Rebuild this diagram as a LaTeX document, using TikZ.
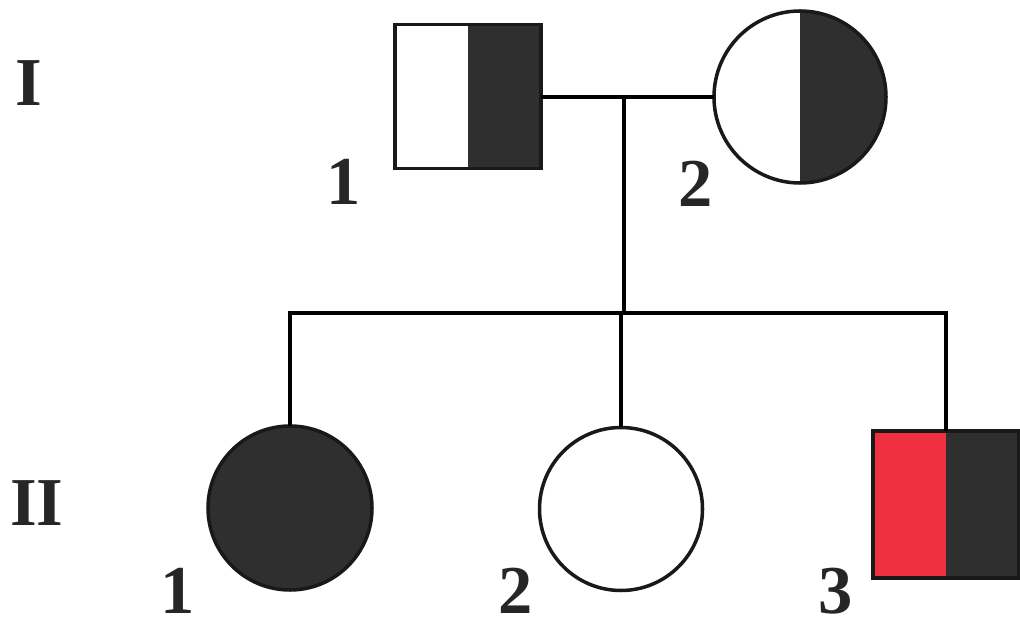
\documentclass[tikz,border=0pt]{standalone}
\usepackage{fontspec}
\setmainfont{Liberation Serif}
\usepackage{tikz}
\usepackage{xcolor}
\definecolor{affect}{HTML}{2F2F2F}
\definecolor{carrier}{HTML}{F0303F}

\tikzset{
  male/.style={draw=black!90,line width=2pt,rectangle,minimum width=2.92cm,minimum height=2.88cm,inner sep=0pt},
  female/.style={draw=black!90,line width=2pt,circle,inner sep=0pt},
  halves/.style 2 args={path picture={
    \fill[#1] (path picture bounding box.north west) rectangle (path picture bounding box.south);
    \fill[#2] (path picture bounding box.north) rectangle (path picture bounding box.south east);}},
  gen/.style={font=\fontsize{39}{42}\selectfont\bfseries,inner sep=0pt,text=black!85}
}

\begin{document}
\begin{tikzpicture}[line width=2pt,line cap=rect]
\useasboundingbox (0,0) rectangle (20.4,12.58);
% generation I
\node[male,halves={white}{affect}] (m1) at (9.36,10.65) {};
\node[female,halves={white}{affect},minimum size=3.44cm] (f1) at (16.0,10.64) {};
% generation II
\node[female,fill=affect,minimum size=3.28cm] (c1) at (5.8,2.42) {};
\node[female,minimum size=3.26cm] (c2) at (12.42,2.40) {};
\node[male,halves={carrier}{affect},minimum height=2.94cm] (c3) at (18.92,2.49) {};
% lines
\coordinate (mate) at (12.48,10.64);
\coordinate (sib) at (12.48,6.32);
\draw (m1.east |- mate) -- (f1.west);
\draw (mate) -- (sib);
\draw (c1.north) |- (sib) -| (c3.north);
\draw (sib) -- (c2.north |- sib) -- (c2.north);
% labels
\node[gen] (g1) at (0.58,10.92) {I};
\node[gen] (g2) at (0.74,2.52) {II};
\node[gen] (n11) at (6.88,8.94) {1};
\node[gen] (n12) at (13.92,8.90) {2};
\node[gen] (n21) at (3.56,0.76) {1};
\node[gen] (n22) at (10.32,0.76) {2};
\node[gen] (n23) at (16.72,0.76) {3};
\end{tikzpicture}
\end{document}
